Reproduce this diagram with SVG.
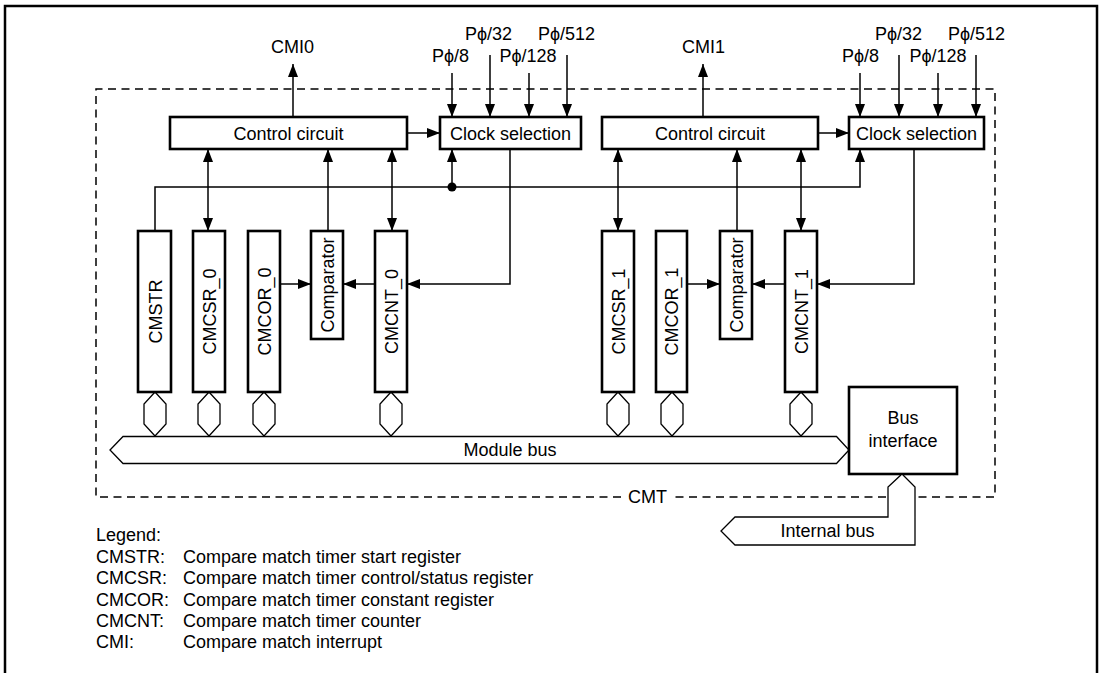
<svg xmlns="http://www.w3.org/2000/svg" width="1102" height="673" viewBox="0 0 1102 673">
<style>
text{font-family:"Liberation Sans",Arial,Helvetica,sans-serif;font-size:18px;fill:#000}
.box{fill:#fff;stroke:#000;stroke-width:2.6}
.c{text-anchor:middle}
.ln{fill:none;stroke:#000;stroke-width:1.5}
.ar{marker-end:url(#ah)}
.da{marker-start:url(#ah);marker-end:url(#ah)}
.bus{fill:#fff;stroke:#000;stroke-width:1.3}
.dash{fill:none;stroke:#000;stroke-width:1.5;stroke-dasharray:8 5.5}
</style>
<defs>
<marker id="ah" markerUnits="userSpaceOnUse" markerWidth="13" markerHeight="10" refX="13" refY="5" orient="auto-start-reverse" viewBox="0 0 13 10">
<path d="M0,0 L13,5 L0,10 z" fill="#000"/>
</marker>
<polygon id="hex" points="0,0 11,12 11,32 0,44 -11,32 -11,12" class="bus"/>
</defs>
<rect x="5" y="6" width="1092" height="720" fill="#fff" stroke="#000" stroke-width="2.5"/>
<g id="cmt-boundary">
<path class="dash" d="M621,497 H96 V89 H995 V497 H671"/>
<text class="c" x="647.5" y="503">CMT</text>
</g>
<g id="connectors">
<path class="ln ar" d="M293,117 V64"/>
<path class="ln ar" d="M703,117 V64"/>
<path class="ln ar" d="M407,133 H440"/>
<path class="ln ar" d="M818,133 H849"/>
<path class="ln ar" d="M452,73 V117"/>
<path class="ln ar" d="M490,55 V117"/>
<path class="ln ar" d="M529,73 V117"/>
<path class="ln ar" d="M567,55 V117"/>
<path class="ln ar" d="M860,73 V117"/>
<path class="ln ar" d="M899,55 V117"/>
<path class="ln ar" d="M938,73 V117"/>
<path class="ln ar" d="M976,55 V117"/>
<path class="ln ar" d="M155,231 V187 H860 V149"/>
<path class="ln ar" d="M452,187 V149"/>
<circle cx="452" cy="187" r="4.5" fill="#000"/>
<path class="ln da" d="M208,149 V231"/>
<path class="ln ar" d="M328,231 V149"/>
<path class="ln da" d="M392,149 V231"/>
<path class="ln ar" d="M510,149 V284 H407"/>
<path class="ln ar" d="M280,284 H311"/>
<path class="ln ar" d="M375,284 H343"/>
<path class="ln da" d="M618,149 V231"/>
<path class="ln ar" d="M737,231 V149"/>
<path class="ln da" d="M801,149 V231"/>
<path class="ln ar" d="M914,149 V284 H817"/>
<path class="ln ar" d="M687,284 H720"/>
<path class="ln ar" d="M785,284 H752"/>
<use href="#hex" x="155" y="392"/>
<use href="#hex" x="209" y="392"/>
<use href="#hex" x="264" y="392"/>
<use href="#hex" x="391" y="392"/>
<use href="#hex" x="618" y="392"/>
<use href="#hex" x="672" y="392"/>
<use href="#hex" x="801" y="392"/>
</g>
<g id="control0"><rect class="box" x="170" y="117" width="237" height="32"/><text class="c" x="288.5" y="139.5">Control circuit</text></g>
<g id="clocksel0"><rect class="box" x="440" y="117" width="141" height="32"/><text class="c" x="510.5" y="139.5">Clock selection</text></g>
<g id="control1"><rect class="box" x="602" y="117" width="216" height="32"/><text class="c" x="710" y="139.5">Control circuit</text></g>
<g id="clocksel1"><rect class="box" x="849" y="117" width="135" height="32"/><text class="c" x="916.5" y="139.5">Clock selection</text></g>
<g id="labels">
<text class="c" x="292.5" y="53">CMI0</text>
<text class="c" x="703.5" y="53">CMI1</text>
<text class="c" x="450.5" y="62">Pϕ/8</text>
<text class="c" x="488.5" y="40">Pϕ/32</text>
<text class="c" x="528" y="62">Pϕ/128</text>
<text class="c" x="566.5" y="40">Pϕ/512</text>
<text class="c" x="860.5" y="62">Pϕ/8</text>
<text class="c" x="898.5" y="40">Pϕ/32</text>
<text class="c" x="938" y="62">Pϕ/128</text>
<text class="c" x="976.5" y="40">Pϕ/512</text>
</g>
<g id="cmstr"><rect class="box" x="138" y="231" width="33" height="161"/><text class="c" transform="translate(161.5,311.5) rotate(-90)">CMSTR</text></g>
<g id="cmcsr0"><rect class="box" x="193" y="231" width="32" height="161"/><text class="c" transform="translate(215.5,311.5) rotate(-90)">CMCSR_0</text></g>
<g id="cmcor0"><rect class="box" x="248" y="231" width="32" height="161"/><text class="c" transform="translate(270.5,311.5) rotate(-90)">CMCOR_0</text></g>
<g id="comparator0"><rect class="box" x="311" y="231" width="32" height="108"/><text class="c" transform="translate(333.5,285) rotate(-90)">Comparator</text></g>
<g id="cmcnt0"><rect class="box" x="375" y="231" width="32" height="161"/><text class="c" transform="translate(397.5,311.5) rotate(-90)">CMCNT_0</text></g>
<g id="cmcsr1"><rect class="box" x="602" y="231" width="32" height="161"/><text class="c" transform="translate(624.5,311.5) rotate(-90)">CMCSR_1</text></g>
<g id="cmcor1"><rect class="box" x="656" y="231" width="31" height="161"/><text class="c" transform="translate(678,311.5) rotate(-90)">CMCOR_1</text></g>
<g id="comparator1"><rect class="box" x="720" y="231" width="32" height="108"/><text class="c" transform="translate(742.5,285) rotate(-90)">Comparator</text></g>
<g id="cmcnt1"><rect class="box" x="785" y="231" width="32" height="161"/><text class="c" transform="translate(807.5,311.5) rotate(-90)">CMCNT_1</text></g>
<g id="modulebus"><polygon class="bus" points="123,436.5 836.5,436.5 849,450 836.5,463.5 123,463.5 110,450"/><text class="c" x="510" y="456">Module bus</text></g>
<g id="businterface"><rect class="box" x="849" y="387" width="108" height="87"/><text class="c" x="903" y="424">Bus</text><text class="c" x="903" y="446.5">interface</text></g>
<g id="internalbus"><polygon class="bus" points="902,474 915,487 915,545 735,545 721,531 735,517 888,517 888,487"/><text class="c" x="827.5" y="537">Internal bus</text></g>
<g id="legend">
<text x="96" y="541">Legend:</text>
<text x="96" y="562.5">CMSTR:</text><text x="183" y="562.5">Compare match timer start register</text>
<text x="96" y="584">CMCSR:</text><text x="183" y="584">Compare match timer control/status register</text>
<text x="96" y="605.5">CMCOR:</text><text x="183" y="605.5">Compare match timer constant register</text>
<text x="96" y="627">CMCNT:</text><text x="183" y="627">Compare match timer counter</text>
<text x="96" y="648">CMI:</text><text x="183" y="648">Compare match interrupt</text>
</g>
</svg>
